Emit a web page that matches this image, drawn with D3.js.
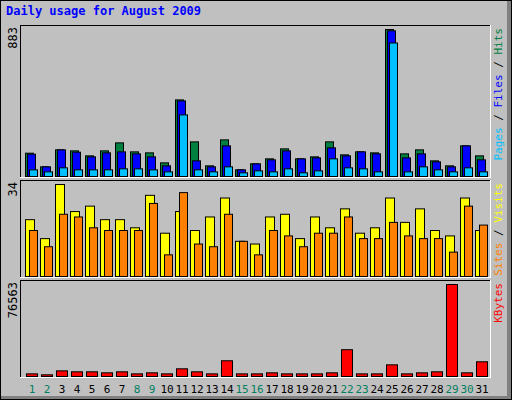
<!DOCTYPE html>
<html><head><meta charset="utf-8">
<script src="https://cdn.jsdelivr.net/npm/d3@7"></script>
<style>body{margin:0;background:#fff}svg{display:block}</style>
</head><body><svg id="chart" width="512" height="400"></svg>
<script>
const days = d3.range(1, 32)
const weekend = [1, 2, 8, 9, 15, 16, 22, 23, 29, 30]
const hits = [140,58,160,154,124,154,202,148,142,82,460,208,64,220,40,76,106,166,106,118,208,130,148,142,883,136,160,94,64,184,124]
const files = [134,58,160,146,118,142,148,136,118,64,454,94,58,184,40,76,100,154,106,112,172,124,148,136,875,112,136,88,58,184,100]
const pages = [40,28,52,40,40,40,46,46,40,28,370,40,28,58,22,34,28,46,22,34,106,52,46,28,802,28,58,40,28,52,28]
const sites = [21,14,34,24,26,21,21,18,30,16,24,17,22,29,13,12,22,23,14,22,18,25,16,18,29,20,25,17,15,29,17]
const visits = [17,11,23,22,18,17,17,17,27,8,31,12,11,23,13,8,17,15,11,16,16,22,14,14,20,15,14,14,9,26,19]
const kbytes = [2200,1400,4700,3900,3900,3060,3900,2200,3060,2200,6400,3900,2200,13100,2200,2200,3060,2200,2200,2200,3060,22300,2200,2200,9700,2200,3060,3900,76563,3060,12250]

const svg = d3.select('#chart')
const font = 'DejaVu Sans Mono, monospace'

svg.append('rect').attr('width', 512).attr('height', 400).attr('fill', '#808080')
svg.append('rect').attr('width', 507).attr('height', 396).attr('fill', '#c0c0c0')
svg.append('rect').attr('x', 0.5).attr('y', 0.5).attr('width', 511).attr('height', 399)
    .attr('fill', 'none').attr('stroke', '#000')

svg.append('text').attr('x', 6).attr('y', 15).text('Daily usage for August 2009')
    .attr('font-family', font).attr('font-weight', 'bold').attr('font-size', 12).attr('fill', '#0000ff')

const x = d3.scaleLinear().domain([1, 31]).range([25, 475])

const panels = [
    {top: 25, bottom: 177, max: 883, label: '883', series: [[hits, '#008040', 0, 8], [files, '#0000ff', 2, 8], [pages, '#00c0ff', 4, 8]],
     names: [['Pages', '#00c0ff'], ['Files', '#0000ff'], ['Hits', '#008040']]},
    {top: 180, bottom: 277, max: 34, label: '34', series: [[sites, '#ffff00', 0, 9], [visits, '#ff8000', 4, 8]],
     names: [['Sites', '#ff8000'], ['Visits', '#ffff00']]},
    {top: 280, bottom: 377, max: 76563, label: '76563', series: [[kbytes, '#ff0000', 1, 11]],
     names: [['KBytes', '#ff0000']]}
]

panels.forEach((p, pi) => {
    const y = d3.scaleLinear().domain([0, p.max]).range([p.bottom - 1, p.top + 4])
    const g = svg.append('g')
    g.append('line').attr('x1', 20.5).attr('x2', 20.5).attr('y1', p.top).attr('y2', p.bottom).attr('stroke', '#000')
    g.append('line').attr('x1', 20).attr('x2', 491).attr('y1', p.top + 0.5).attr('y2', p.top + 0.5).attr('stroke', '#000')
    g.append('line').attr('x1', 490.5).attr('x2', 490.5).attr('y1', p.top).attr('y2', p.bottom + 1).attr('stroke', '#fff')
    g.append('line').attr('x1', 20).attr('x2', 491).attr('y1', p.bottom + 0.5).attr('y2', p.bottom + 0.5).attr('stroke', '#fff')

    p.series.forEach(([vals, color, off, w]) => {
        g.selectAll(null).data(days).enter().append('rect')
            .attr('x', (d) => x(d) + off + 0.5)
            .attr('y', (d) => y(vals[d - 1]) + 0.5)
            .attr('width', w)
            .attr('height', (d) => Math.max(0, y(0) - y(vals[d - 1])))
            .attr('fill', color).attr('stroke', '#000')
    })

    g.append('text').attr('transform', `translate(17,${p.top + 2}) rotate(-90)`)
        .attr('text-anchor', 'end').attr('font-family', font).attr('font-size', 12).attr('fill', '#000')
        .text(p.label)

    const lbl = g.append('text').attr('transform', `translate(502,${p.top + 3}) rotate(-90)`)
        .attr('text-anchor', 'end').attr('font-family', font).attr('font-size', 11)
    p.names.forEach(([n, c], i) => {
        if (i > 0) lbl.append('tspan').attr('fill', '#000').text(' / ')
        lbl.append('tspan').attr('fill', c).text(n)
    })
})

svg.selectAll('.day').data(days).enter().append('text')
    .attr('x', (d) => x(d) + 7).attr('y', 393)
    .attr('text-anchor', 'middle').attr('font-family', font).attr('font-size', 11)
    .attr('fill', (d) => weekend.includes(d) ? '#008060' : '#000')
    .text((d) => d)
</script></body></html>
